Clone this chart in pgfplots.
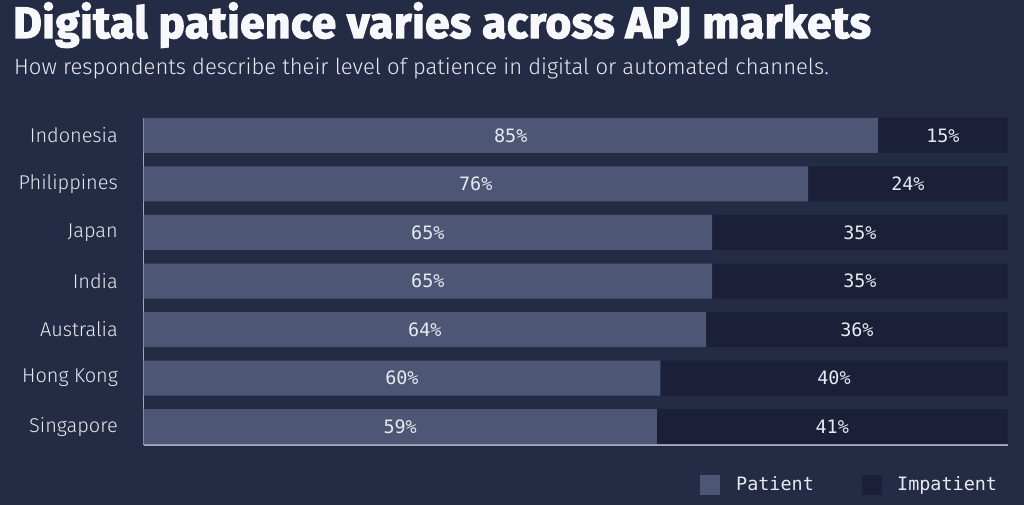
\documentclass[border=0pt]{standalone}
\usepackage{pgfplots}
\pgfplotsset{compat=1.18}
\usepackage{fontspec}
\setmainfont{Fira Sans}
\newfontfamily\lightfont{Fira Sans Light}
\newfontfamily\titlefont[LetterSpace=1.5, BoldFeatures={FakeBold=3}]{Fira Sans}
\newfontfamily\monofont{DejaVu Sans Mono}

\definecolor{bg}{HTML}{242B44}
\definecolor{patient}{HTML}{4D5775}
\definecolor{impatient}{HTML}{1B1F38}
\definecolor{axiscol}{HTML}{A3A8BA}
\definecolor{titlecol}{HTML}{F7F8FB}
\definecolor{labelcol}{HTML}{E8EAF1}

\begin{document}
\begin{tikzpicture}
\useasboundingbox (0,0) rectangle (1024bp,505bp);
\fill[bg] (0,0) rectangle (1024bp,505bp);

% title and subtitle
\node[anchor=base west, inner sep=0, text=titlecol,
      font=\titlefont\fontsize{44}{44}\selectfont\bfseries] at (13bp,467bp)
      {Digital patience varies across APJ markets};
\node[anchor=base west, inner sep=0, text=labelcol,
      font=\lightfont\fontsize{22.1}{22.1}\selectfont] at (14bp,430bp)
      {How respondents describe their level of patience in digital or automated channels.};

% bar lengths as drawn; labels as printed
\begin{axis}[
    at={(143.5bp,60bp)}, anchor=south west,
    scale only axis, width=864.2bp, height=327bp,
    xmin=0, xmax=100, ymin=-0.38, ymax=6.36,
    xbar stacked, bar width=35bp,
    axis x line*=bottom, axis y line*=left,
    axis line style={-, draw=axiscol, line width=1.5bp},
    xtick=\empty,
    ytick={0,...,6},
    yticklabels={Singapore,Hong Kong,Australia,India,Japan,Philippines,Indonesia},
    ytick style={draw=none},
    yticklabel style={anchor=east, inner sep=0pt, xshift=-25.5bp,
        text=labelcol, font=\lightfont\fontsize{20}{20}\selectfont},
    point meta=explicit symbolic,
    nodes near coords={\pgfplotspointmeta\%},
    every node near coord/.append style={anchor=center,
        text=labelcol, font=\monofont\fontsize{18.5}{18.5}\selectfont},
]
\addplot[fill=patient, draw=none] coordinates {
    (59.4,0) [59] (59.8,1) [60] (65.1,2) [64] (65.8,3) [65]
    (65.8,4) [65] (76.9,5) [76] (85.0,6) [85]};
\addplot[fill=impatient, draw=none] coordinates {
    (40.6,0) [41] (40.2,1) [40] (34.9,2) [36] (34.2,3) [35]
    (34.2,4) [35] (23.1,5) [24] (15.0,6) [15]};
\end{axis}

% legend
\fill[patient] (700bp,10bp) rectangle (720bp,30bp);
\node[anchor=base west, inner sep=0, text=labelcol,
      font=\monofont\fontsize{18.5}{18.5}\selectfont] at (736bp,15bp) {Patient};
\fill[impatient] (862bp,10bp) rectangle (882bp,30bp);
\node[anchor=base west, inner sep=0, text=labelcol,
      font=\monofont\fontsize{18.5}{18.5}\selectfont] at (897bp,15bp) {Impatient};
\end{tikzpicture}
\end{document}
